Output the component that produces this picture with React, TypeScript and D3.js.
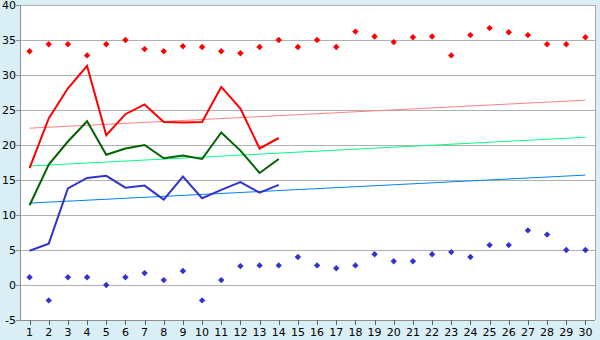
import React from "react";
import * as d3 from "d3";

const categories = d3.range(1, 31).map(String);
const yTicks = [-5, 0, 5, 10, 15, 20, 25, 30, 35, 40];

const redLine = [16.7, 23.8, 28.1, 31.3, 21.4, 24.4, 25.8, 23.3, 23.2, 23.3, 28.3, 25.2, 19.5, 21.0];
const greenLine = [11.4, 17.2, 20.5, 23.4, 18.6, 19.5, 20.0, 18.1, 18.5, 18.0, 21.8, 19.2, 16.0, 18.0];
const blueLine = [4.9, 5.9, 13.8, 15.3, 15.6, 13.9, 14.2, 12.2, 15.5, 12.4, 13.6, 14.7, 13.2, 14.3];

const redPoints = [33.4, 34.4, 34.4, 32.8, 34.4, 35.0, 33.7, 33.4, 34.1, 34.0, 33.4, 33.1, 34.0, 35.0, 34.0,
  35.0, 34.0, 36.2, 35.5, 34.7, 35.4, 35.5, 32.8, 35.7, 36.7, 36.1, 35.7, 34.4, 34.4, 35.4];
const bluePoints = [1.1, -2.2, 1.1, 1.1, 0.0, 1.1, 1.7, 0.7, 2.0, -2.2, 0.7, 2.7, 2.8, 2.8, 4.0,
  2.8, 2.4, 2.8, 4.4, 3.4, 3.4, 4.4, 4.7, 4.0, 5.7, 5.7, 7.8, 7.2, 5.0, 5.0];

// trend lines: [value at first category, value at last category]
const redTrend = [22.4, 26.4];
const greenTrend = [17.0, 21.1];
const blueTrend = [11.7, 15.7];

const W = 600, H = 340;
const left = 20, right = 595, top = 5, bottom = 320;

export default function App() {
  const x = d3.scaleBand<string>().domain(categories).range([left, right]);
  const y = d3.scaleLinear().domain([-5, 40]).range([bottom, top]);
  const cx = (i: number) => (x(categories[i]) as number) + x.bandwidth() / 2;
  const line = d3.line<number>().x((_, i) => cx(i)).y((v) => y(v));
  const trend = (t: number[]) => d3.line<number>().x((_, i) => cx(i === 0 ? 0 : categories.length - 1)).y((v) => y(v))(t) as string;
  const r = 3.2;
  const diamond = (px: number, py: number) => `M${px},${py - r}L${px + r},${py}L${px},${py + r}L${px - r},${py}Z`;
  const font = "DejaVu Sans, Verdana, sans-serif";

  return (
    <svg width={W} height={H} style={{ position: "absolute", left: 0, top: 0, display: "block" }}>
      <rect x={0} y={0} width={W} height={H} fill="#d9eff5" />
      <rect x={left} y={top} width={right - left} height={bottom - top} fill="#ffffff" />
      {yTicks.map((t) => (
        <g key={t}>
          <line x1={left} x2={right} y1={y(t)} y2={y(t)} stroke="#b0b0b0" strokeWidth={1} shapeRendering="crispEdges" />
          <line x1={left - 4} x2={left} y1={y(t)} y2={y(t)} stroke="#909090" strokeWidth={1} shapeRendering="crispEdges" />
          <text x={16} y={y(t)} dy="0.36em" textAnchor="end" fontFamily={font} fontSize={11} fill="#000">{t}</text>
        </g>
      ))}
      <line x1={right} x2={right} y1={top} y2={bottom} stroke="#a8a8a8" shapeRendering="crispEdges" />
      <line x1={left} x2={left} y1={top} y2={bottom} stroke="#909090" shapeRendering="crispEdges" />
      <line x1={left} x2={right} y1={bottom} y2={bottom} stroke="#909090" shapeRendering="crispEdges" />
      {categories.map((c, i) => (
        <g key={c}>
          <line x1={Math.round(cx(i)) + 0.5} x2={Math.round(cx(i)) + 0.5} y1={bottom} y2={bottom + 5} stroke="#606060" />
          <text x={cx(i)} y={336} textAnchor="middle" fontFamily={font} fontSize={11} fill="#000">{c}</text>
        </g>
      ))}
      <path d={trend(redTrend)} stroke="#ff8080" strokeWidth={1} fill="none" />
      <path d={trend(greenTrend)} stroke="#00ff80" strokeWidth={1} fill="none" />
      <path d={trend(blueTrend)} stroke="#0080ff" strokeWidth={1} fill="none" />
      <path d={line(redLine) as string} stroke="#ff0000" strokeWidth={2} fill="none" />
      <path d={line(greenLine) as string} stroke="#006400" strokeWidth={2} fill="none" />
      <path d={line(blueLine) as string} stroke="#3333cc" strokeWidth={2} fill="none" />
      {redPoints.map((v, i) => (
        <path key={"r" + i} d={diamond(cx(i), y(v))} fill="#ff0000" />
      ))}
      {bluePoints.map((v, i) => (
        <path key={"b" + i} d={diamond(cx(i), y(v))} fill="#3333cc" />
      ))}
    </svg>
  );
}
